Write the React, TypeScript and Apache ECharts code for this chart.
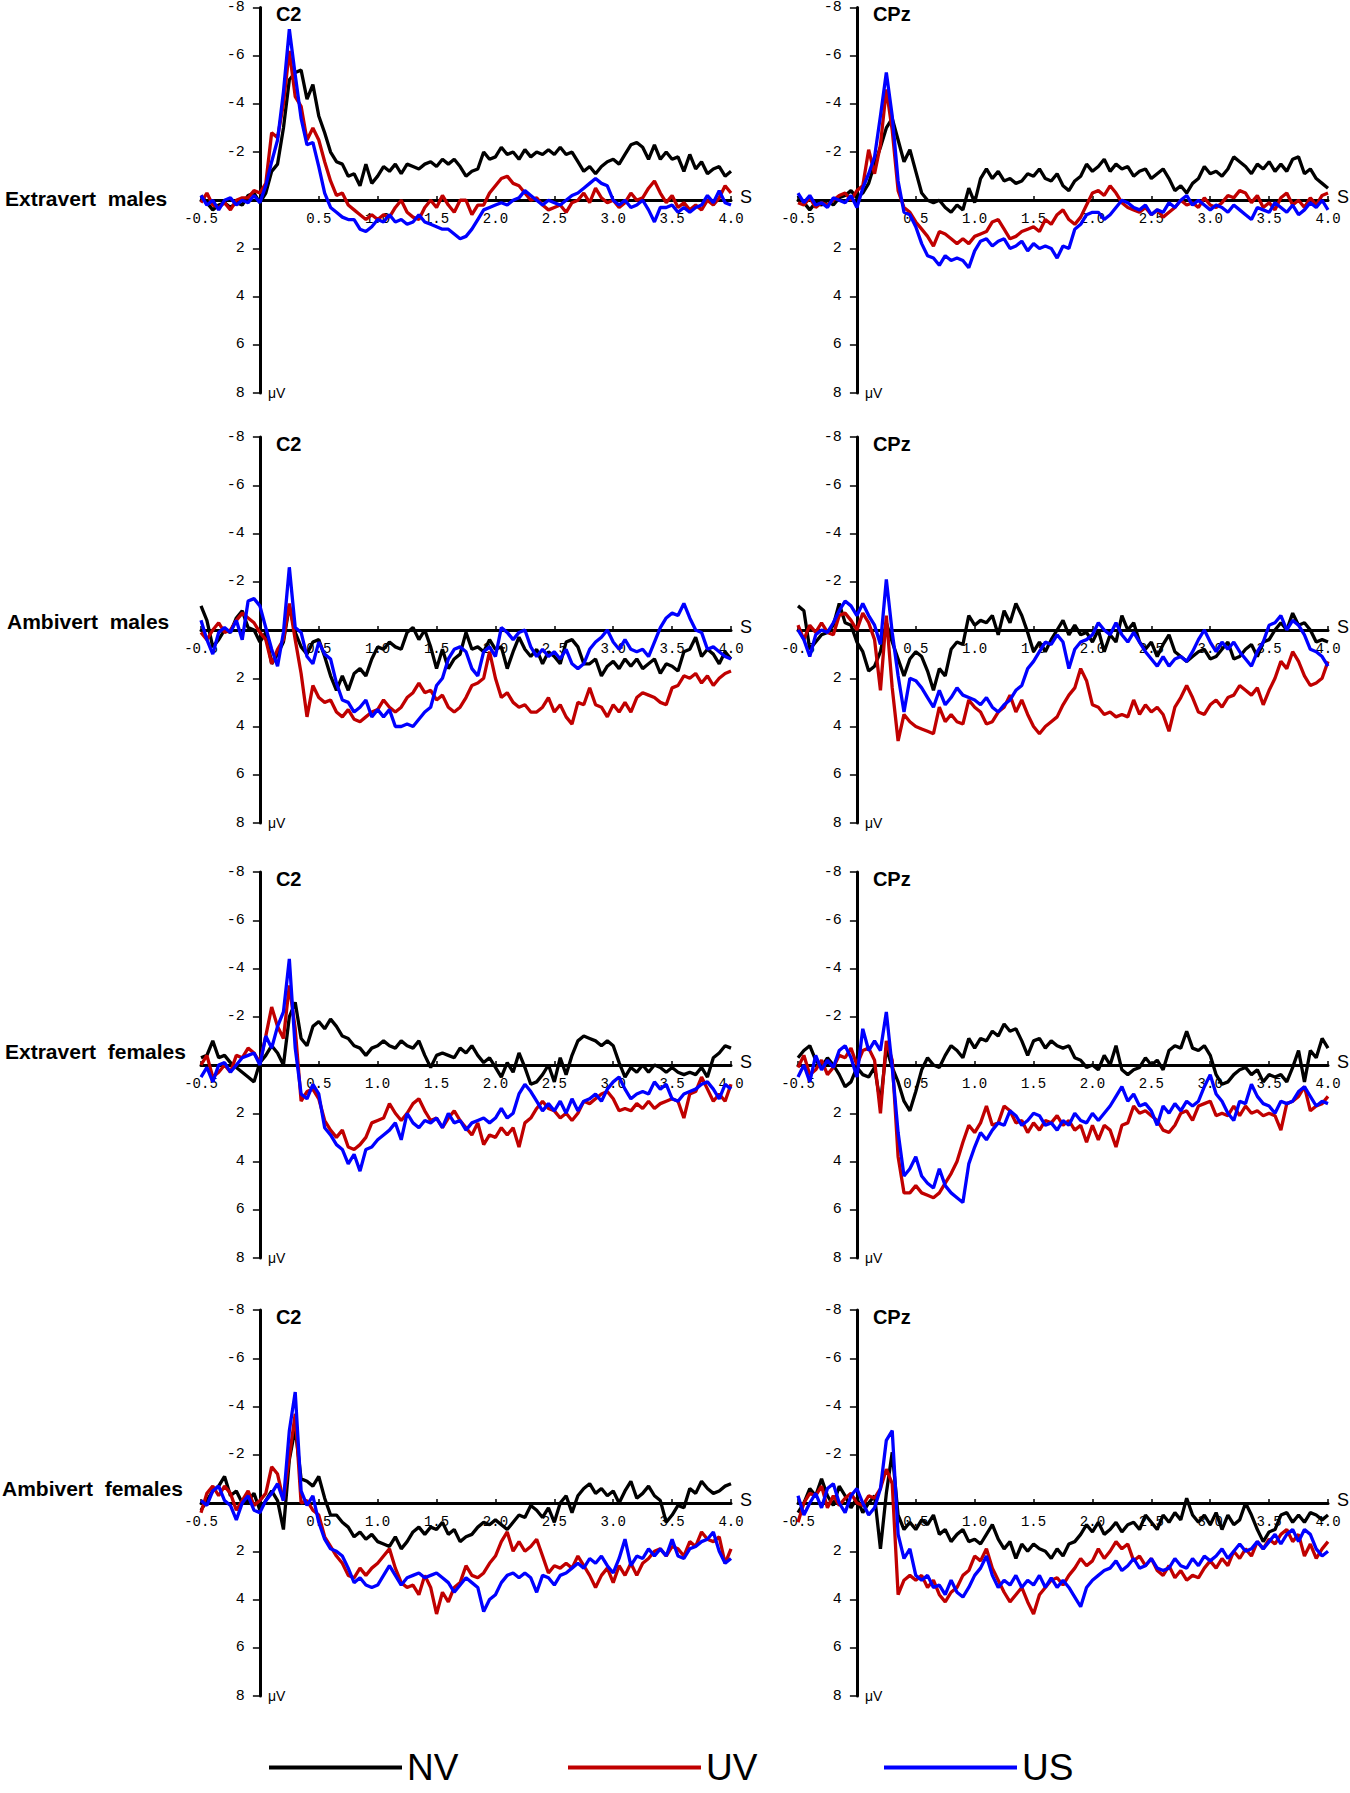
import React, { useEffect, useRef } from "react";
import * as echarts from "echarts";

// Time axis (s): -0.5 .. 4.0 in 0.05 s steps (91 samples)
const TIME: number[] = Array.from({ length: 91 }, (_, i) => Math.round((-0.5 + i * 0.05) * 100) / 100);

const ROW_LABELS = ["Extravert  males", "Ambivert  males", "Extravert  females", "Ambivert  females"];
const ELECTRODES = ["C2", "CPz"];
const CONDITIONS = ["NV", "UV", "US"];
const COLORS = ["#000000", "#c00000", "#0000ff"];
const X_MIN = -0.5;
const X_MAX = 4.0;
const X_STEP = 0.5;
const Y_MIN = -8;
const Y_MAX = 8;
const Y_STEP = 2;
const X_UNIT = "S";
const Y_UNIT = "μV";

// ---------- Extravert males, C2 ----------
const extMaleC2NV = [
  -0.2, 0.1, 0.4, 0.2, 0.1, 0.3, 0.1, 0.2, -0.2, -0.3, 0.1,
  -0.3, -1.2, -1.5, -3.0, -5.0, -5.3, -5.4, -4.2, -4.8, -3.5,
  -2.8, -2.0, -1.6, -1.5, -1.0, -1.1, -0.6, -1.5, -0.7, -1.0,
  -1.4, -1.2, -1.5, -1.1, -1.5, -1.4, -1.3, -1.5, -1.6, -1.4,
  -1.7, -1.5, -1.7, -1.4, -1.0, -1.2, -1.3, -2.0, -1.7, -1.8,
  -2.2, -1.9, -2.0, -1.7, -2.1, -1.8, -2.0, -1.9, -2.1, -1.9,
  -2.2, -1.9, -2.0, -1.6, -1.2, -1.4, -1.1, -1.4, -1.6, -1.7,
  -1.5, -1.9, -2.3, -2.4, -2.2, -1.7, -2.3, -1.7, -2.0, -1.7,
  -1.8, -1.2, -1.9, -1.3, -1.6, -1.1, -1.3, -1.4, -1.0, -1.2,
];
const extMaleC2UV = [
  0.1, -0.3, 0.2, 0.3, 0.1, 0.4, 0.0, -0.1, -0.1, -0.4, -0.3,
  -0.7, -2.8, -2.6, -4.0, -6.2, -4.3, -3.9, -2.5, -3.0, -2.5,
  -1.6, -0.8, -0.2, -0.3, 0.2, 0.4, 0.6, 0.8, 0.6, 0.8,
  0.6, 0.7, 0.3, 0.0, 0.5, 0.7, 0.8, 0.3, 0.0, 0.3,
  -0.2, 0.2, 0.5, 0.0, 0.0, 0.6, 0.2, 0.2, -0.3, -0.6,
  -0.9, -1.0, -0.7, -0.6, -0.3, 0.0, -0.1, 0.2, 0.4, 0.3,
  0.2, 0.5, 0.1, 0.0, -0.3, 0.1, -0.5, -0.1, 0.1, 0.0,
  0.3, 0.1, -0.3, 0.0, -0.1, -0.5, -0.8, -0.3, 0.1, -0.2,
  0.3, 0.1, 0.4, 0.2, 0.4, 0.0, 0.2, -0.1, -0.6, -0.3,
];
const extMaleC2US = [
  -0.2, 0.2, 0.0, 0.4, 0.0, -0.1, 0.2, 0.0, 0.1, -0.2, 0.1,
  -0.6, -1.6, -2.5, -4.5, -7.1, -5.2, -3.4, -2.3, -2.4, -1.4,
  -0.3, 0.3, 0.5, 0.7, 0.8, 0.8, 1.2, 1.3, 1.1, 0.8,
  0.9, 0.6, 0.9, 0.8, 1.0, 0.9, 0.6, 0.9, 1.0, 1.1,
  1.2, 1.2, 1.4, 1.6, 1.5, 1.2, 0.8, 0.4, 0.3, 0.2,
  0.1, 0.2, 0.0, -0.1, -0.4, -0.2, 0.0, 0.2, 0.0, 0.1,
  0.2, 0.0, -0.2, -0.3, -0.5, -0.7, -0.9, -0.7, -0.6, 0.0,
  0.2, 0.0, 0.3, 0.2, 0.0, 0.4, 0.9, 0.3, 0.3, 0.2,
  0.5, 0.3, 0.5, 0.3, 0.2, -0.2, 0.1, -0.4, 0.1, 0.2,
];

// ---------- Extravert males, CPz ----------
const extMaleCPzNV = [
  -0.2, 0.1, 0.4, 0.1, 0.2, 0.0, 0.2, -0.1, -0.2, -0.4, -0.1,
  -0.3, -0.7, -1.5, -2.2, -3.0, -3.4, -2.5, -1.6, -2.1, -1.2,
  -0.3, 0.0, 0.1, 0.0, 0.3, 0.5, 0.2, 0.4, -0.5, 0.1,
  -0.9, -1.3, -0.9, -1.2, -0.8, -0.9, -0.7, -0.8, -1.1, -1.0,
  -1.3, -0.9, -0.8, -1.1, -0.6, -0.4, -0.8, -1.0, -1.5, -1.2,
  -1.4, -1.7, -1.2, -1.5, -1.3, -1.4, -1.0, -1.2, -1.3, -0.9,
  -1.1, -1.3, -0.9, -0.4, -0.6, -0.3, -0.7, -0.9, -1.4, -1.1,
  -1.2, -1.0, -1.3, -1.8, -1.6, -1.4, -1.1, -1.5, -1.3, -1.6,
  -1.2, -1.5, -1.2, -1.7, -1.8, -1.1, -1.3, -0.9, -0.7, -0.5,
];
const extMaleCPzUV = [
  0.1, 0.2, -0.1, 0.3, 0.1, 0.2, 0.0, -0.2, -0.3, 0.0, -0.4,
  -0.6, -2.1, -1.1, -2.3, -4.6, -2.9, -0.4, 0.3, 0.5, 0.9,
  1.2, 1.5, 1.9, 1.3, 1.4, 1.6, 1.8, 1.6, 1.8, 1.5,
  1.4, 1.3, 0.9, 0.8, 1.2, 1.6, 1.5, 1.3, 1.2, 1.1,
  1.3, 0.8, 1.0, 0.6, 0.4, 0.8, 1.0, 0.7, 0.2, -0.3,
  -0.4, -0.2, -0.6, -0.3, 0.1, 0.3, 0.4, 0.5, 0.3, 0.6,
  0.4, 0.7, 0.5, 0.3, 0.0, 0.2, 0.1, 0.3, -0.1, 0.2,
  0.3, 0.1, -0.2, -0.1, -0.4, -0.3, 0.1, -0.2, 0.3, 0.1,
  0.4, -0.1, -0.3, 0.2, 0.0, 0.3, -0.1, 0.2, -0.2, -0.3,
];
const extMaleCPzUS = [
  -0.3, 0.1, -0.2, 0.2, 0.1, 0.3, -0.1, 0.0, 0.1, -0.2, 0.3,
  -0.5, -1.1, -1.8, -3.5, -5.3, -3.5, -0.8, 0.5, 0.6, 1.1,
  1.8, 2.3, 2.4, 2.7, 2.3, 2.5, 2.4, 2.5, 2.8, 2.1,
  1.7, 1.6, 1.9, 1.7, 1.6, 2.0, 1.9, 1.7, 2.1, 1.8,
  2.0, 1.9, 2.0, 2.4, 1.9, 2.0, 1.2, 1.0, 0.6, 0.5,
  0.5, 0.8, 0.6, 0.3, 0.0, 0.1, 0.3, 0.4, 0.2, 0.6,
  0.4, 0.5, 0.1, 0.3, 0.0, -0.2, 0.2, 0.0, 0.2, 0.4,
  0.2, 0.3, 0.5, 0.2, 0.4, 0.6, 0.8, 0.3, 0.4, 0.5,
  0.1, 0.3, 0.5, 0.2, 0.6, 0.4, 0.1, 0.3, 0.0, 0.4,
];

// ---------- Ambivert males, C2 ----------
const ambMaleC2NV = [
  -1.0, -0.4, 0.7, 0.4, 0.0, 0.1, -0.5, -0.8, -0.1, 0.0, 0.5,
  0.1, 1.4, 1.0, 0.5, -1.0, 0.1, 0.7, 1.0, 0.5, 0.4,
  1.1, 1.9, 2.5, 1.9, 2.5, 1.8, 1.6, 1.9, 1.2, 0.7,
  0.8, 0.5, 0.7, 0.8, 0.1, -0.1, 0.4, 0.0, 0.7, 1.6,
  0.8, 1.6, 1.2, 1.0, 0.1, 0.8, 0.7, 0.9, 0.4, 0.8,
  0.7, 1.6, 0.9, 0.3, 0.8, 1.1, 0.8, 1.4, 0.9, 1.1,
  1.4, 0.5, 0.4, 0.7, 1.4, 1.4, 1.2, 1.9, 1.5, 1.3,
  1.6, 1.2, 1.5, 1.2, 1.6, 1.4, 1.2, 1.8, 1.4, 1.5,
  1.7, 0.9, 0.8, 0.3, 1.1, 0.8, 1.0, 1.4, 0.9, 1.2,
];
const ambMaleC2UV = [
  0.1, 0.4, 0.0, -0.3, 0.1, 0.0, -0.4, -0.7, -0.5, -0.3, 0.1,
  0.4, 1.4, 0.8, 0.4, -1.1, 0.4, 1.8, 3.6, 2.3, 2.8,
  3.0, 2.9, 3.4, 3.6, 3.3, 3.7, 3.8, 3.6, 3.4, 3.3,
  2.9, 3.2, 3.4, 3.2, 2.8, 2.6, 2.2, 2.6, 2.5, 2.9,
  2.7, 3.2, 3.4, 3.2, 2.8, 2.3, 2.2, 2.0, 0.9, 2.0,
  2.8, 2.6, 3.0, 3.2, 3.1, 3.4, 3.4, 3.2, 2.8, 3.4,
  3.1, 3.6, 3.9, 3.0, 3.1, 2.4, 3.1, 3.2, 3.6, 3.1,
  3.4, 3.0, 3.4, 2.8, 2.6, 2.7, 2.8, 3.0, 3.1, 2.4,
  2.3, 1.9, 2.0, 1.8, 2.2, 1.9, 2.3, 2.0, 1.8, 1.7,
];
const ambMaleC2US = [
  -0.4, 0.4, 1.0, 0.1, -0.1, 0.1, -0.4, 0.4, -1.2, -1.3, -1.0,
  -0.1, 0.8, 1.5, 0.1, -2.6, -0.1, 0.1, 1.1, 1.4, 0.5,
  1.0, 1.2, 2.2, 2.9, 3.0, 3.4, 3.2, 2.9, 3.6, 3.3,
  3.6, 3.3, 4.0, 4.0, 3.9, 4.0, 3.7, 3.4, 3.2, 2.3,
  2.0, 1.2, 0.8, 0.7, 0.9, 1.6, 1.9, 0.9, 0.7, 1.1,
  -0.1, 0.1, 0.4, 0.1, 0.0, 0.7, 1.1, 0.8, 1.1, 0.9,
  1.2, 0.8, 1.4, 1.6, 1.4, 0.8, 0.5, 0.3, 0.0, 0.5,
  0.8, 0.4, 0.8, 0.9, 0.8, 1.1, 0.5, -0.1, -0.5, -0.7,
  -0.6, -1.1, -0.5, 0.0, 0.1, 0.8, 0.7, 0.9, 1.1, 1.2,
];

// ---------- Ambivert males, CPz ----------
const ambMaleCPzNV = [
  -1.0, -0.8, 0.8, 0.5, 0.2, 0.1, -0.2, -1.1, -0.3, -0.2, 0.5,
  0.9, 1.7, 1.5, 0.9, -0.3, 0.5, 1.2, 1.9, 1.2, 0.9,
  1.1, 1.7, 2.5, 1.6, 1.9, 0.8, 0.5, 0.6, -0.6, -0.2,
  -0.4, -0.3, -0.6, 0.2, -0.8, -0.3, -1.1, -0.6, 0.1, 0.9,
  0.5, 0.9, 0.4, 0.0, -0.4, 0.2, -0.2, 0.2, 0.1, 0.5,
  0.0, 0.9, 0.2, 0.5, -0.6, 0.0, -0.3, 0.5, 0.8, 0.5,
  1.1, 0.6, 0.2, 0.9, 1.1, 1.3, 1.1, 0.9, 0.8, 1.2,
  1.1, 0.8, 0.5, 1.2, 1.1, 0.8, 0.6, 1.1, 0.5, 0.4,
  0.0, -0.3, 0.0, -0.7, -0.2, -0.3, 0.0, 0.5, 0.4, 0.5,
];
const ambMaleCPzUV = [
  -0.2, 0.4, -0.2, 0.1, -0.3, 0.1, 0.2, -0.6, -0.7, -0.4, 0.0,
  -0.7, -0.3, 0.4, 2.5, -0.6, 2.4, 4.6, 3.5, 3.8, 4.0,
  4.1, 4.2, 4.3, 3.2, 3.8, 3.5, 3.8, 3.9, 2.9, 3.2,
  3.4, 3.9, 3.8, 3.4, 3.2, 2.7, 3.4, 2.9, 3.5, 4.0,
  4.3, 4.0, 3.8, 3.6, 3.1, 2.7, 2.4, 1.6, 2.1, 3.1,
  3.2, 3.5, 3.4, 3.6, 3.5, 3.6, 2.9, 3.5, 3.1, 3.4,
  3.2, 3.5, 4.2, 3.2, 2.8, 2.3, 2.8, 3.4, 3.5, 3.1,
  2.9, 3.2, 2.8, 2.7, 2.3, 2.5, 2.7, 2.4, 3.1, 2.5,
  2.0, 1.3, 1.6, 0.9, 1.3, 1.9, 2.3, 2.2, 2.0, 1.3,
];
const ambMaleCPzUS = [
  0.0, 0.4, 1.1, 0.2, 0.0, 0.1, -0.3, -0.8, -1.2, -1.0, -0.6,
  -1.1, -0.6, -0.2, 0.6, -2.1, 0.1, 1.9, 3.4, 2.0, 2.1,
  2.4, 2.8, 3.2, 2.5, 3.1, 2.8, 2.4, 2.7, 2.8, 2.9,
  3.1, 2.8, 3.2, 3.4, 3.1, 2.9, 2.5, 2.3, 1.6, 1.3,
  0.9, 0.5, 0.6, 0.2, 0.5, 1.6, 0.8, 0.5, 0.4, 0.2,
  -0.3, 0.0, 0.2, -0.3, 0.2, 0.5, 0.1, 0.5, 0.9, 1.2,
  1.5, 1.1, 1.5, 1.2, 1.1, 1.3, 0.9, 0.4, 0.0, 0.5,
  0.9, 0.5, 0.8, 0.5, 0.9, 1.2, 1.5, 0.9, 0.5, -0.2,
  -0.3, -0.6, 0.0, -0.4, -0.2, 0.2, 0.8, 0.9, 1.1, 1.5,
];

// ---------- Extravert females, C2 ----------
const extFemC2NV = [
  -0.3, -0.4, -1.0, -0.3, -0.4, -0.1, 0.1, 0.3, 0.5, 0.7, -0.1,
  -0.4, -0.8, -0.5, 0.0, -2.0, -2.6, -1.1, -0.8, -1.6, -1.8,
  -1.5, -1.9, -1.6, -1.2, -1.1, -0.8, -0.7, -0.4, -0.7, -0.8,
  -1.0, -0.8, -0.7, -1.0, -0.8, -0.7, -1.0, -0.4, 0.1, -0.4,
  -0.5, -0.4, -0.3, -0.7, -0.5, -0.8, -0.4, -0.1, -0.3, 0.1,
  0.5, -0.1, 0.3, -0.5, 0.1, 0.8, 0.7, 0.4, 0.0, 0.7,
  -0.3, 0.4, -0.4, -1.0, -1.2, -1.1, -1.0, -0.8, -1.0, -0.8,
  -0.1, 0.5, 0.1, 0.3, 0.0, 0.3, 0.0, 0.1, 0.3, 0.1,
  0.3, 0.4, 0.3, 0.4, 0.1, 0.5, -0.3, -0.5, -0.8, -0.7,
];
const extFemC2UV = [
  0.0, -0.4, 0.5, 0.3, 0.0, 0.3, -0.4, -0.3, -0.7, -0.5, -0.1,
  -1.2, -2.4, -1.6, -1.1, -3.3, -1.5, 1.5, 1.1, 1.0, 1.4,
  2.3, 2.7, 3.0, 2.7, 3.4, 3.5, 3.3, 3.0, 2.4, 2.3,
  2.2, 1.6, 2.0, 2.3, 2.0, 1.6, 1.4, 1.9, 2.3, 2.2,
  2.6, 2.2, 1.9, 2.3, 2.6, 2.9, 2.4, 3.3, 2.9, 3.0,
  2.6, 2.9, 2.6, 3.4, 2.4, 2.2, 1.8, 1.5, 1.8, 1.9,
  2.2, 2.0, 2.3, 2.0, 1.5, 1.6, 1.4, 1.2, 1.1, 1.4,
  1.9, 1.8, 1.9, 1.6, 1.8, 1.5, 1.8, 1.6, 1.5, 1.4,
  1.5, 2.2, 1.2, 1.1, 0.5, 1.0, 1.5, 1.2, 1.5, 0.8,
];
const extFemC2US = [
  0.5, 0.1, 0.7, 0.0, -0.1, 0.3, 0.0, -0.3, -0.4, -0.5, 0.0,
  -1.2, -0.7, -1.6, -2.2, -4.4, -0.7, 1.2, 1.4, 0.8, 1.2,
  2.6, 2.9, 3.3, 3.5, 4.1, 3.7, 4.4, 3.5, 3.4, 3.1,
  2.9, 2.7, 2.4, 3.1, 2.0, 2.4, 2.6, 2.3, 2.4, 2.2,
  2.6, 2.0, 2.4, 2.3, 2.7, 2.4, 2.3, 2.2, 2.4, 2.2,
  1.8, 2.2, 2.0, 1.2, 0.8, 1.1, 1.5, 1.9, 1.6, 1.9,
  1.5, 2.0, 1.4, 1.9, 1.5, 1.4, 1.2, 1.5, 1.0, 0.7,
  0.5, 1.0, 1.4, 1.2, 1.1, 1.2, 0.7, 1.0, 0.8, 1.4,
  1.5, 1.2, 1.1, 1.0, 0.8, 0.7, 1.0, 1.4, 0.8, 1.0,
];

// ---------- Extravert females, CPz ----------
const extFemCPzNV = [
  -0.3, -0.6, -0.8, -0.2, 0.1, -0.3, 0.0, 0.4, 0.9, 0.7, 0.1,
  0.4, 0.5, 0.1, 1.6, -0.7, 0.1, 0.7, 1.5, 1.9, 1.1,
  0.2, -0.3, 0.0, 0.1, -0.4, -0.8, -0.6, -0.3, -1.1, -0.7,
  -1.1, -1.0, -1.4, -1.2, -1.7, -1.4, -1.5, -1.0, -0.4, -1.0,
  -1.1, -0.7, -1.0, -0.8, -0.7, -0.8, -0.3, -0.2, 0.1, 0.0,
  0.2, -0.4, 0.0, -0.8, 0.2, 0.4, 0.2, 0.1, -0.3, 0.0,
  -0.2, 0.2, -0.6, -0.8, -0.7, -1.4, -0.7, -0.6, -0.8, -0.4,
  0.4, 0.8, 0.7, 0.4, 0.2, 0.1, 0.4, 0.2, 0.7, 0.4,
  0.5, 0.4, 0.7, 0.1, -0.6, 0.7, -0.6, -0.3, -1.1, -0.7,
];
const extFemCPzUV = [
  0.1, -0.4, 0.4, 0.2, -0.2, 0.4, 0.1, -0.4, -0.3, -0.7, 0.0,
  -0.6, -0.7, -0.2, 2.0, -1.0, -0.2, 3.8, 5.3, 5.3, 5.0,
  5.3, 5.4, 5.5, 5.3, 4.9, 4.5, 4.0, 3.2, 2.5, 2.8,
  2.4, 1.7, 2.5, 2.4, 1.7, 1.9, 2.4, 2.3, 2.8, 2.4,
  2.7, 2.3, 2.4, 2.1, 2.5, 2.3, 2.7, 2.5, 3.2, 2.5,
  3.1, 2.5, 2.7, 3.4, 2.5, 2.4, 1.7, 2.0, 1.9, 2.1,
  2.3, 2.7, 2.8, 2.5, 2.0, 1.9, 2.3, 1.7, 1.6, 1.5,
  2.1, 2.0, 2.1, 1.7, 2.1, 1.7, 2.0, 1.9, 2.1, 2.0,
  2.1, 2.7, 1.6, 1.5, 1.3, 0.9, 1.9, 1.7, 1.6, 1.3,
];
const extFemCPzUS = [
  0.5, 0.0, 0.7, -0.4, 0.2, -0.2, 0.1, -0.6, -0.8, -0.3, 0.5,
  -1.5, -0.6, -1.0, -0.6, -2.2, 0.1, 2.8, 4.6, 4.3, 3.8,
  4.6, 4.9, 5.1, 4.3, 5.0, 5.3, 5.5, 5.7, 4.1, 3.4,
  2.8, 3.1, 2.7, 2.4, 2.5, 1.9, 2.1, 2.5, 2.3, 2.0,
  2.1, 2.5, 2.4, 2.7, 2.3, 2.5, 2.0, 2.3, 2.4, 2.0,
  2.3, 2.0, 1.7, 1.3, 0.9, 1.5, 1.2, 1.7, 1.6, 1.9,
  2.5, 1.7, 2.0, 1.6, 1.9, 1.5, 1.7, 1.5, 0.9, 0.4,
  1.2, 1.5, 2.0, 2.3, 1.5, 1.6, 0.8, 1.3, 1.6, 1.7,
  2.0, 1.5, 1.6, 1.5, 1.1, 0.9, 1.3, 1.7, 1.5, 1.6,
];

// ---------- Ambivert females, C2 ----------
const ambFemC2NV = [
  0.3, -0.1, -0.5, -0.7, -1.1, -0.3, -0.5, 0.0, -0.1, -0.4, 0.3,
  -0.1, -0.5, -0.1, 1.1, -1.8, -3.1, -1.0, -0.9, -0.7, -1.1,
  -0.2, 0.5, 0.5, 0.8, 1.0, 1.4, 1.2, 1.5, 1.3, 1.6,
  1.7, 1.8, 1.4, 1.9, 1.6, 1.2, 1.0, 1.3, 1.0, 1.1,
  0.8, 1.3, 1.1, 1.6, 1.4, 1.3, 1.0, 0.8, 0.9, 0.7,
  0.9, 1.1, 0.8, 0.5, 0.6, 0.1, 0.3, 0.6, 0.2, 0.8,
  0.0, -0.3, 0.4, -0.3, -0.6, -0.8, -0.4, -0.6, -0.3, -0.5,
  0.0, -0.5, -0.9, -0.2, -0.4, -0.7, -0.3, -0.1, 0.8, 0.5,
  0.1, 0.2, -0.6, -0.4, -0.9, -0.6, -0.4, -0.5, -0.7, -0.8,
];
const ambFemC2UV = [
  0.4, -0.4, -0.7, -0.3, -0.7, -0.4, 0.3, -0.1, -0.5, 0.1, -0.1,
  -0.4, -1.5, -1.2, -0.1, -1.9, -3.7, 0.0, -0.1, 0.3, 0.5,
  1.4, 1.8, 2.2, 2.5, 3.0, 3.1, 2.7, 3.0, 2.7, 2.5,
  2.2, 1.9, 2.7, 3.3, 3.5, 3.4, 3.8, 3.0, 3.5, 4.6,
  3.7, 4.1, 3.5, 3.3, 2.6, 3.0, 3.1, 2.9, 2.5, 2.2,
  1.6, 1.2, 2.0, 1.6, 2.0, 1.8, 1.5, 2.2, 2.9, 2.6,
  2.7, 2.5, 2.7, 2.2, 2.6, 3.0, 3.5, 3.0, 2.7, 3.3,
  2.6, 3.0, 2.5, 3.0, 2.5, 2.3, 2.0, 1.9, 2.2, 1.8,
  1.9, 2.2, 1.6, 1.8, 1.2, 1.5, 1.6, 1.4, 2.5, 1.9,
];
const ambFemC2US = [
  -0.1, 0.1, -0.5, -0.7, -0.1, 0.1, 0.7, 0.0, -0.3, 0.3, 0.4,
  -0.1, -0.4, -0.8, -0.1, -3.0, -4.6, -0.5, 0.1, -0.3, 0.8,
  1.5, 1.9, 2.0, 2.2, 2.7, 3.3, 3.1, 3.4, 3.5, 3.4,
  3.0, 2.6, 3.0, 3.4, 3.1, 3.0, 2.9, 3.1, 3.0, 2.9,
  3.1, 3.3, 3.7, 3.4, 3.1, 3.3, 3.5, 4.5, 4.0, 3.8,
  3.3, 3.0, 2.9, 3.1, 2.9, 3.1, 3.7, 3.0, 3.1, 3.4,
  3.0, 2.9, 2.7, 2.5, 2.7, 2.3, 2.5, 2.2, 2.6, 2.9,
  2.3, 1.5, 2.6, 2.2, 2.3, 1.9, 2.2, 1.9, 2.2, 1.5,
  2.2, 2.3, 1.9, 1.8, 1.6, 1.5, 1.2, 2.0, 2.5, 2.3,
];

// ---------- Ambivert females, CPz ----------
const ambFemCPzNV = [
  0.4, 0.0, -0.6, -0.3, -1.0, -0.3, 0.1, -0.7, -0.3, 0.2, -0.2,
  0.4, 0.0, -0.3, 1.9, -0.4, -2.1, 0.5, 1.1, 0.8, 1.1,
  0.7, 0.9, 0.5, 1.3, 1.1, 1.6, 1.3, 1.1, 1.6, 1.5,
  1.7, 1.3, 0.9, 1.5, 1.9, 1.6, 2.3, 1.7, 2.0, 1.7,
  1.9, 2.0, 2.3, 1.9, 2.2, 1.7, 1.6, 1.3, 0.9, 1.2,
  0.8, 1.3, 1.1, 0.8, 1.2, 0.9, 0.8, 1.1, 0.5, 0.8,
  1.1, 0.5, 0.8, 0.4, 0.7, -0.2, 0.5, 0.8, 0.5, 0.9,
  0.4, 1.1, 0.5, 0.9, 0.7, 0.0, 0.5, 1.1, 1.6, 1.2,
  1.1, 0.5, 0.4, 0.8, 0.5, 0.8, 0.4, 0.5, 0.7, 0.5,
];
const ambFemCPzUV = [
  0.8, 0.0, -0.4, -0.3, -0.7, 0.2, -0.3, 0.1, -0.2, -0.4, 0.0,
  0.1, -0.3, -0.2, -0.6, -1.4, -0.8, 3.8, 3.2, 3.0, 3.2,
  3.0, 3.5, 3.2, 3.8, 4.1, 3.7, 3.5, 3.0, 2.8, 2.2,
  2.4, 1.9, 2.7, 3.2, 3.7, 4.1, 3.8, 3.5, 4.1, 4.6,
  3.8, 3.5, 3.2, 3.1, 3.4, 3.0, 2.7, 2.3, 2.6, 2.4,
  1.9, 2.3, 2.0, 1.6, 1.9, 1.7, 2.4, 2.2, 2.6, 2.3,
  2.8, 3.0, 2.6, 3.1, 2.8, 3.2, 3.0, 3.1, 2.7, 2.4,
  2.7, 2.3, 2.6, 2.0, 2.3, 1.9, 2.2, 1.6, 1.9, 1.5,
  1.7, 1.3, 1.1, 1.6, 1.3, 2.2, 1.7, 2.3, 1.9, 1.6,
];
const ambFemCPzUS = [
  -0.3, 0.5, 0.0, -0.4, 0.2, -0.6, -0.8, 0.0, 0.4, -0.3, -0.6,
  0.0, 0.5, 0.2, -0.6, -2.6, -3.0, 1.3, 2.3, 1.9, 3.0,
  3.2, 3.0, 3.5, 3.4, 3.8, 3.2, 3.7, 3.9, 3.5, 3.0,
  2.7, 2.2, 3.0, 3.5, 3.2, 3.4, 3.0, 3.5, 3.2, 3.4,
  3.0, 3.5, 3.1, 3.5, 3.2, 3.5, 3.9, 4.3, 3.5, 3.2,
  3.0, 2.8, 2.7, 2.4, 2.8, 2.6, 2.3, 2.7, 2.6, 2.3,
  2.7, 2.8, 2.7, 2.3, 2.6, 2.7, 2.3, 2.6, 2.2, 2.4,
  2.2, 1.9, 2.3, 2.0, 1.7, 2.0, 1.9, 1.6, 1.9, 1.6,
  1.3, 1.7, 1.3, 1.1, 1.6, 1.1, 1.3, 1.9, 2.2, 2.0,
];

// panels in row-major order: [row][col] -> [NV, UV, US]
const PANELS: number[][][][] = [
  [[extMaleC2NV, extMaleC2UV, extMaleC2US], [extMaleCPzNV, extMaleCPzUV, extMaleCPzUS]],
  [[ambMaleC2NV, ambMaleC2UV, ambMaleC2US], [ambMaleCPzNV, ambMaleCPzUV, ambMaleCPzUS]],
  [[extFemC2NV, extFemC2UV, extFemC2US], [extFemCPzNV, extFemCPzUV, extFemCPzUS]],
  [[ambFemC2NV, ambFemC2UV, ambFemC2US], [ambFemCPzNV, ambFemCPzUV, ambFemCPzUS]],
];

// ---------- layout (pixels) ----------
const ROW_ZERO = [200, 630, 1065, 1503];
const ROW_LABEL_Y = [198, 621, 1051, 1488];
const ROW_LABEL_X = [5, 7, 5, 2];
const HALF_H = 193;
const COL_LEFT = [201, 798];
const PLOT_W = 530;
const LEGEND_LEFT = [269, 568, 884];
const SANS = '"Liberation Sans", Arial, sans-serif';
const TICK_FONT = '"Liberation Mono", "Courier New", monospace';

function buildOption(): echarts.EChartsCoreOption {
  const grid: any[] = [];
  const xAxis: any[] = [];
  const yAxis: any[] = [];
  const series: any[] = [];
  const graphic: any[] = [];
  const pxPerSec = PLOT_W / (X_MAX - X_MIN);
  const axisShift = (0 - X_MIN) * pxPerSec;

  PANELS.forEach((row, r) => {
    graphic.push({
      type: "text",
      x: ROW_LABEL_X[r],
      y: ROW_LABEL_Y[r],
      style: {
        text: ROW_LABELS[r],
        fill: "#000",
        font: `bold 21px ${SANS}`,
        verticalAlign: "middle",
        align: "left",
      },
    });
    row.forEach((panel, c) => {
      const idx = grid.length;
      const zeroY = ROW_ZERO[r];
      const left = COL_LEFT[c];
      const axisX = left + axisShift;
      grid.push({ left, top: zeroY - HALF_H, width: PLOT_W, height: HALF_H * 2, containLabel: false });
      xAxis.push({
        type: "value",
        gridIndex: idx,
        position: "bottom",
        offset: -HALF_H,
        min: X_MIN,
        max: X_MAX,
        interval: X_STEP,
        axisLine: { show: true, onZero: false, lineStyle: { color: "#000", width: 3 } },
        axisTick: { show: true, inside: true, length: 4, lineStyle: { color: "#000", width: 1.5 } },
        axisLabel: {
          show: true,
          margin: 12,
          color: "#000",
          fontFamily: TICK_FONT,
          fontSize: 14,
          showMinLabel: true,
          showMaxLabel: true,
          formatter: (v: number) => (Math.abs(v) < 1e-9 ? "" : v.toFixed(1)),
        },
        splitLine: { show: false },
      });
      yAxis.push({
        type: "value",
        gridIndex: idx,
        position: "left",
        offset: -axisShift,
        inverse: true,
        min: Y_MIN,
        max: Y_MAX,
        interval: Y_STEP,
        axisLine: { show: true, onZero: false, lineStyle: { color: "#000", width: 3 } },
        axisTick: { show: true, length: 7, lineStyle: { color: "#000", width: 1.5 } },
        axisLabel: {
          show: true,
          margin: 15,
          color: "#000",
          fontFamily: TICK_FONT,
          fontSize: 15,
          formatter: (v: number) => (v === 0 ? "" : String(v)),
        },
        splitLine: { show: false },
      });
      panel.forEach((vals, s) => {
        series.push({
          type: "line",
          name: CONDITIONS[s],
          xAxisIndex: idx,
          yAxisIndex: idx,
          data: TIME.map((t, k) => [t, vals[k]]),
          showSymbol: false,
          symbol: "none",
          smooth: false,
          lineStyle: { color: COLORS[s], width: 3.3 },
          itemStyle: { color: COLORS[s] },
          z: 2 + s,
          silent: true,
        });
      });
      // electrode name
      graphic.push({
        type: "text",
        x: axisX + 16,
        y: zeroY - 186,
        style: { text: ELECTRODES[c], fill: "#000", font: `bold 20px ${SANS}`, verticalAlign: "middle", align: "left" },
      });
      // unit "S" at end of time axis
      graphic.push({
        type: "text",
        x: left + PLOT_W + 9,
        y: zeroY - 3,
        style: { text: X_UNIT, fill: "#000", font: `18px ${SANS}`, verticalAlign: "middle", align: "left" },
      });
      // unit "μV" at bottom of voltage axis
      graphic.push({
        type: "text",
        x: axisX + 8,
        y: zeroY + HALF_H,
        style: { text: Y_UNIT, fill: "#000", font: `14px ${SANS}`, verticalAlign: "middle", align: "left" },
      });
    });
  });

  const legendBase = {
    top: 1749,
    padding: 0,
    itemWidth: 133,
    itemHeight: 4,
    icon: "rect",
    selectedMode: false,
    textStyle: { fontSize: 37, lineHeight: 36, color: "#000", fontFamily: SANS },
  };

  return {
    animation: false,
    backgroundColor: "#ffffff",
    grid,
    xAxis,
    yAxis,
    series,
    graphic,
    legend: CONDITIONS.map((name, i) => ({ ...legendBase, data: [name], left: LEGEND_LEFT[i] })),
  };
}

export default function App() {
  const ref = useRef<HTMLDivElement>(null);
  useEffect(() => {
    if (!ref.current) return;
    const chart = echarts.init(ref.current, undefined, { renderer: "svg" });
    chart.setOption(buildOption());
    return () => chart.dispose();
  }, []);
  return (
    <div
      ref={ref}
      style={{ position: "absolute", left: 0, top: 0, width: 1350, height: 1793, background: "#fff" }}
    />
  );
}
